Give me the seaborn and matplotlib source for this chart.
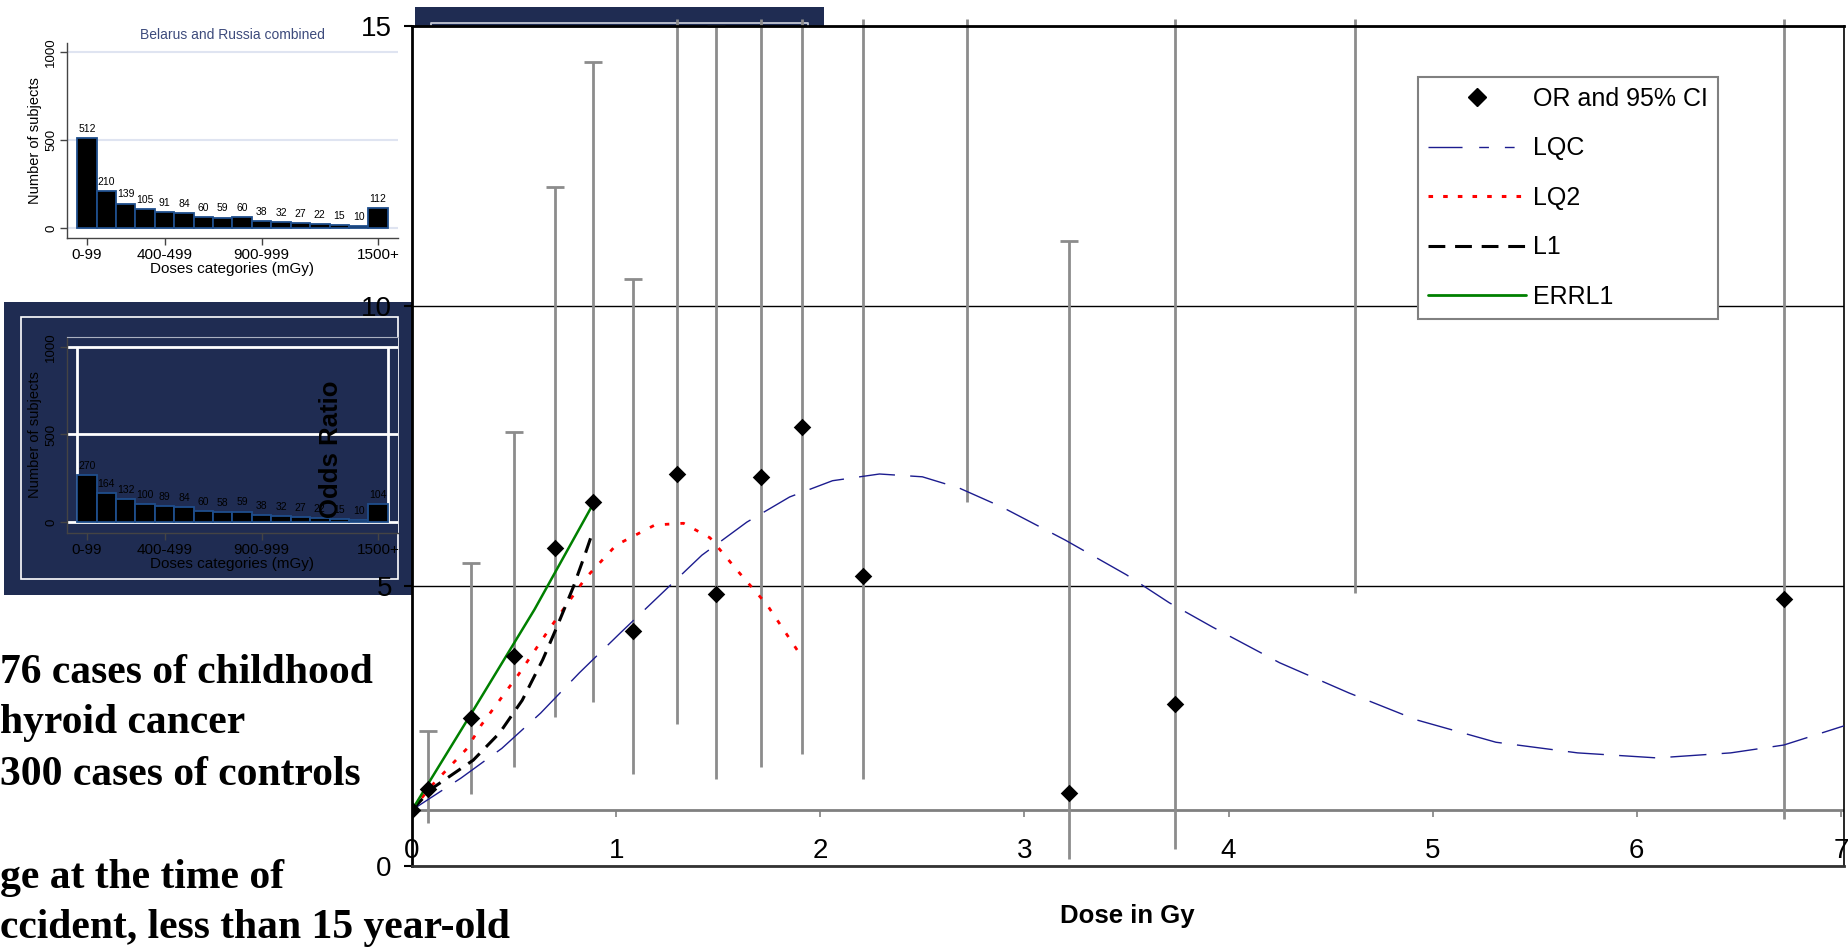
import numpy as np
import matplotlib
matplotlib.use("Agg")
import matplotlib.pyplot as plt
import seaborn as sns
from matplotlib.patches import Rectangle
from matplotlib.lines import Line2D

# ---------------- data ----------------
dose_categories = ["0-99", "100-199", "200-299", "300-399", "400-499", "500-599",
                   "600-699", "700-799", "800-899", "900-999", "1000-1099",
                   "1100-1199", "1200-1299", "1300-1399", "1400-1499", "1500+"]
shown_categories = ["0-99", "400-499", "900-999", "1500+"]
subjects_combined = [512, 210, 139, 105, 91, 84, 60, 59, 60, 38, 32, 27, 22, 15, 10, 112]
subjects_second = [270, 164, 132, 100, 89, 84, 60, 58, 59, 38, 32, 27, 22, 15, 10, 104]
hist_yticks = [0, 500, 1000]

nan = np.nan
dose_gy = [0.0, 0.08, 0.29, 0.50, 0.70, 0.886, 1.085, 1.30, 1.49, 1.71, 1.91, 2.21,
           2.72, 3.22, 3.74, 4.62, 6.72]
odds_ratio = [1.0, 1.37, 2.64, 3.75, 5.68, 6.50, 4.20, 7.00, 4.86, 6.95, 7.84, 5.18,
              nan, 1.30, 2.90, nan, 4.77]
ci_low = [nan, 0.77, 1.29, 1.77, 2.66, 2.93, 1.64, 2.54, 1.55, 1.77, 2.00, 1.55,
          6.50, 0.12, 0.30, 4.88, 0.84]
ci_high = [nan, 2.41, 5.41, 7.75, 12.13, 14.36, 10.48, 15.13, 15.0, 15.13, 15.13, 15.13,
           15.13, 11.16, 15.13, 15.13, 15.13]
ci_capped = [False, True, True, True, True, True, True, False, True, False, False, False,
             False, True, False, False, False]

lqc_x = [0.0, 0.24, 0.44, 0.63, 0.82, 1.02, 1.23, 1.42, 1.64, 1.85, 2.06, 2.29, 2.50,
         2.68, 2.89, 3.20, 3.50, 3.71, 3.92, 4.25, 4.59, 4.92, 5.31, 5.71, 6.10, 6.46,
         6.72, 7.03]
lqc_y = [1.0, 1.57, 2.10, 2.73, 3.45, 4.16, 4.89, 5.55, 6.14, 6.59, 6.88, 7.00, 6.95,
         6.75, 6.41, 5.82, 5.20, 4.70, 4.27, 3.63, 3.09, 2.61, 2.21, 2.02, 1.93, 2.02,
         2.16, 2.52]
lq2_x = [0.0, 0.10, 0.27, 0.34, 0.52, 0.68, 0.85, 1.00, 1.19, 1.33, 1.46, 1.60, 1.74, 1.91]
lq2_y = [1.0, 1.45, 2.10, 2.52, 3.41, 4.27, 5.14, 5.73, 6.09, 6.12, 5.86, 5.25, 4.66, 3.73]
l1_x = [0.0, 0.10, 0.30, 0.43, 0.54, 0.64, 0.71, 0.79, 0.85, 0.88]
l1_y = [1.0, 1.39, 1.89, 2.38, 2.96, 3.68, 4.27, 4.98, 5.59, 5.91]
errl1_x = [0.0, 0.30, 0.60, 0.885]
errl1_y = [1.0, 2.78, 4.58, 6.45]

x_ticks = [0, 1, 2, 3, 4, 5, 6, 7]
y_ticks = [0, 5, 10, 15]

legend_labels = ["OR and 95% CI", "LQC", "LQ2", "L1", "ERRL1"]
text_lines = ["76 cases of childhood", "hyroid cancer", "300 cases of controls",
              "ge at the time of", "ccident, less than 15 year-old"]

# ---------------- style ----------------
sns.set_style("white")
plt.rcParams["font.family"] = ["Liberation Sans", "DejaVu Sans"]
plt.rcParams["text.color"] = "black"
plt.rcParams["axes.labelcolor"] = "black"
plt.rcParams["xtick.color"] = "black"
plt.rcParams["ytick.color"] = "black"

W, H = 1848, 949
fig = plt.figure(figsize=(W / 100, H / 100), dpi=100)
fig.patch.set_facecolor("white")


def frect(l, t, r, b):
    return [l / W, 1 - b / H, (r - l) / W, (b - t) / H]


NAVY_BG = "#1f2c52"
LQC_C = "#1c1c8f"

# background boxes (pasted frames of the slide)
fig.add_artist(Rectangle((4 / W, 1 - 595 / H), (412 - 4) / W, (595 - 302) / H,
                         transform=fig.transFigure, facecolor=NAVY_BG,
                         edgecolor="none", zorder=-10))
fig.add_artist(Rectangle((21 / W, 1 - 579 / H), (398 - 21) / W, (579 - 317) / H,
                         transform=fig.transFigure, facecolor="none",
                         edgecolor="white", lw=1.2, zorder=-9))
fig.add_artist(Rectangle((415 / W, 1 - 27 / H), (824 - 415) / W, (27 - 7) / H,
                         transform=fig.transFigure, facecolor=NAVY_BG,
                         edgecolor="none", zorder=-10))
fig.add_artist(Line2D([431 / W, 431 / W, 808 / W, 808 / W],
                      [1 - 26 / H, 1 - 23 / H, 1 - 23 / H, 1 - 26 / H],
                      transform=fig.transFigure, color="#c4c8d4", lw=1.3, zorder=-8))


# ---------------- histograms ----------------
def histogram(ax, values, face, grid_col, grid_lw, txt_col):
    sns.barplot(x=dose_categories, y=values, order=dose_categories, ax=ax,
                color="black", saturation=1, edgecolor="#1f4e8c", linewidth=1.3,
                width=1.0)
    ax.set_facecolor(face)
    ax.set_xlim(-1.03, 16.03)
    ax.set_yticks(hist_yticks)
    ax.set_yticklabels([str(v) for v in hist_yticks], rotation=90, va="center",
                       fontsize=9.5, color=txt_col)
    ax.set_xticks([dose_categories.index(c) for c in shown_categories])
    ax.set_xticklabels(shown_categories, fontsize=11, color=txt_col)
    ax.tick_params(axis="both", length=5, width=1, color="#444444", pad=2,
                   bottom=True, left=True)
    ax.grid(axis="y", color=grid_col, lw=grid_lw)
    ax.grid(axis="x", visible=False)
    ax.set_axisbelow(True)
    for s in ["top", "right"]:
        ax.spines[s].set_visible(False)
    for s in ["left", "bottom"]:
        ax.spines[s].set_color("#444444")
        ax.spines[s].set_linewidth(1.0)
    ax.set_ylabel("Number of subjects", fontsize=10.5, color=txt_col, labelpad=2)
    ax.set_xlabel("Doses categories (mGy)", fontsize=11, color=txt_col, labelpad=0)
    ax.bar_label(ax.containers[0], labels=[str(v) for v in values], fontsize=7.5,
                 padding=3, color=txt_col)


ax1 = fig.add_axes(frect(67, 43, 398, 238), zorder=1)
histogram(ax1, subjects_combined, "white", "#dfe4f1", 1.5, "black")
ax1.set_ylim(-57, 1051)
ax1.set_title("Belarus and Russia combined", fontsize=10, color="#3d4b7c", pad=3)

ax2 = fig.add_axes(frect(67, 337, 398, 533), zorder=1)
histogram(ax2, subjects_second, NAVY_BG, "white", 2.0, "black")
ax2.set_ylim(-63, 1057)
ax2.spines["top"].set_visible(True)
ax2.spines["top"].set_color("#aab0c0")
ax2.vlines([-0.5, len(dose_categories) - 0.5], 0, hist_yticks[-1], colors="white",
           lw=2, zorder=0.5)

# ---------------- main chart ----------------
ax = fig.add_axes(frect(412, 26, 1844, 866), zorder=5)
ax.set_facecolor("white")
ax.set_xlim(0, 7.015)
ax.set_ylim(0, 15)

# reference line OR = 1 with its small ticks
ax.axhline(1, color="#808080", lw=2, zorder=1.5)
ax.vlines(x_ticks[1:], 1 - 0.13, 1, colors="#808080", lw=1.2, zorder=1.5)

# confidence intervals
ax.vlines(dose_gy, ci_low, ci_high, colors="#8c8c8c", lw=2.0, clip_on=False, zorder=2)
cap_x = [d for d, c in zip(dose_gy, ci_capped) if c]
cap_y = [h for h, c in zip(ci_high, ci_capped) if c]
ax.plot(cap_x, cap_y, ls="none", marker="_", ms=13.5, mew=2.0, color="#8c8c8c",
        zorder=2, clip_on=False)

# fitted curves
sns.lineplot(x=lqc_x, y=lqc_y, ax=ax, color=LQC_C, lw=1.0,
             linestyle=(0, (26, 11)), zorder=3)
sns.lineplot(x=lq2_x, y=lq2_y, ax=ax, color="#ff0000", lw=2.0,
             linestyle=(0, (1.6, 4.0)), zorder=3)
sns.lineplot(x=l1_x, y=l1_y, ax=ax, color="black", lw=2.2,
             linestyle=(0, (5.0, 3.0)), zorder=3)
sns.lineplot(x=errl1_x, y=errl1_y, ax=ax, color="#008000", lw=1.8, zorder=3)

# point estimates
sns.scatterplot(x=dose_gy, y=odds_ratio, ax=ax, marker="D", s=80, color="black",
                linewidth=0, zorder=4)

# axes styling
ax.set_xticks(x_ticks)
ax.set_xticklabels([str(v) for v in x_ticks])
ax.set_yticks(y_ticks)
ax.set_yticklabels([str(v) for v in y_ticks])
ax.tick_params(axis="x", length=0, pad=-20, labelsize=20, labelcolor="black")
ax.tick_params(axis="y", length=6, width=1.5, pad=8.5, labelsize=20,
               direction="out", left=True, color="black", labelcolor="black")
ax.grid(axis="y", color="black", lw=1.0)
ax.grid(axis="x", visible=False)
ax.set_axisbelow(True)
for s in ["left", "top"]:
    ax.spines[s].set_color("black")
    ax.spines[s].set_linewidth(2)
ax.spines["right"].set_color("black")
ax.spines["right"].set_linewidth(1.2)
ax.spines["bottom"].set_color("#333333")
ax.spines["bottom"].set_linewidth(2)

ax.set_ylabel("Odds Ratio", fontsize=18.5, fontweight="bold", color="black")
ax.yaxis.set_label_coords(-0.048, 0.4964)
ax.set_xlabel("Dose in Gy", fontsize=18.5, fontweight="bold", color="black")
ax.xaxis.set_label_coords(0.4995, -0.0455)

handles = [
    Line2D([], [], ls="none", marker="D", ms=9, color="black"),
    Line2D([], [], color=LQC_C, lw=1.0, ls=(0, (24.5, 12, 7, 11.5, 7, 100))),
    Line2D([], [], color="#ff0000", lw=2.2, ls=(0, (1.5, 3.3))),
    Line2D([], [], color="black", lw=2.2, ls=(0, (5.5, 3.2))),
    Line2D([], [], color="#008000", lw=2.0),
]
leg = ax.legend(handles, legend_labels, loc="upper left",
                bbox_to_anchor=(1418 / W, 1 - 77 / H), bbox_transform=fig.transFigure,
                borderaxespad=0, frameon=True, fancybox=False, shadow=False,
                fontsize=18, handlelength=3.9, handletextpad=0.3, labelspacing=1.02,
                borderpad=0.4, framealpha=1)
leg.get_frame().set_edgecolor("#808080")
leg.get_frame().set_linewidth(1.5)

# ---------------- left text block ----------------
baselines = [683, 733, 785, 888, 938]
for line, yb in zip(text_lines, baselines):
    fig.text(0 / W, 1 - yb / H, line, family=["Liberation Serif", "DejaVu Serif"],
             fontweight="bold", fontsize=30, ha="left", va="baseline", color="black",
             zorder=6)

fig.savefig("out.png", dpi=100)
